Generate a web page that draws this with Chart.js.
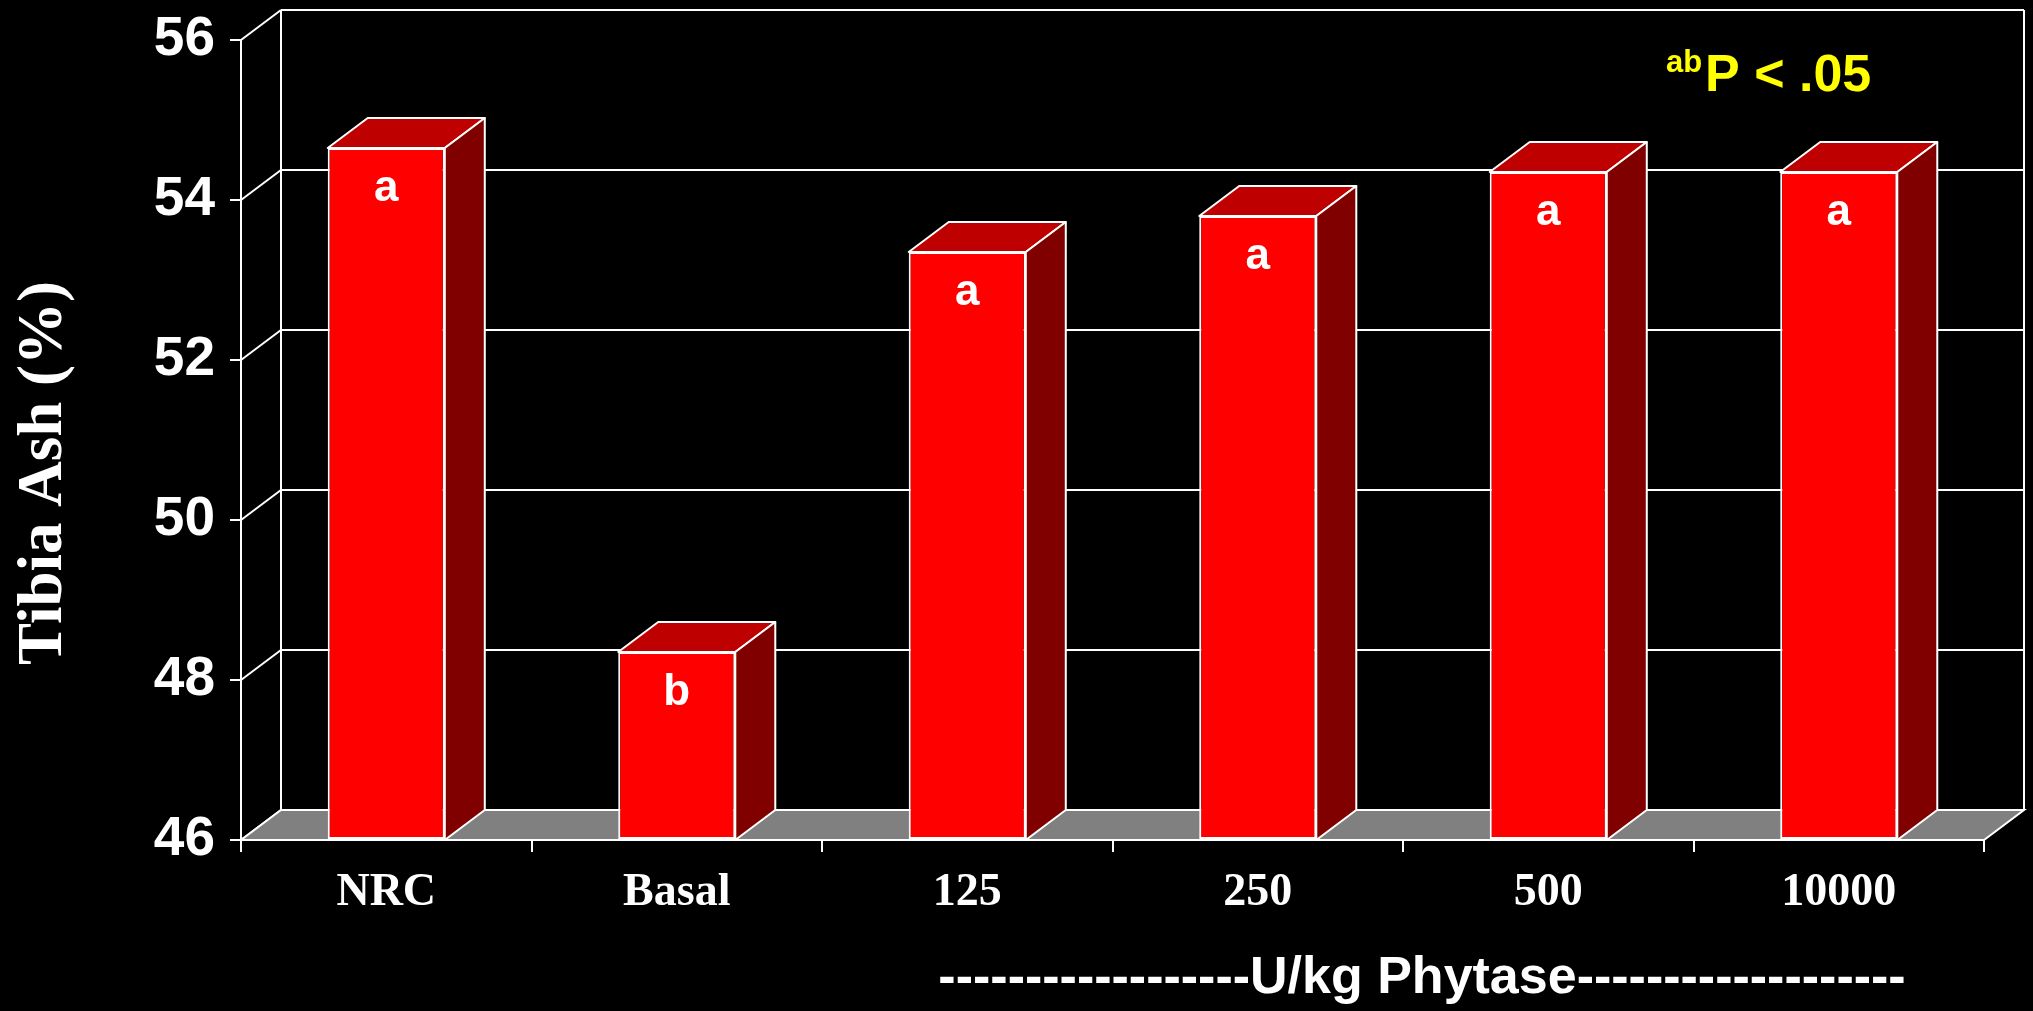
<!DOCTYPE html>
<html>
<head>
<meta charset="utf-8">
<title>Tibia Ash</title>
<script src="https://cdn.jsdelivr.net/npm/chart.js@4.4.1/dist/chart.umd.min.js"></script>
<style>
  html, body { margin: 0; padding: 0; background: #000; }
  canvas { display: block; }
</style>
</head>
<body>
<canvas id="myChart" width="2033" height="1011"></canvas>
<script>
// tibia ash (%) per diet, letters are the significance groups
var categories = ['NRC', 'Basal', '125', '250', '500', '10000'];
var tibiaAsh = [54.65, 48.35, 53.35, 53.8, 54.35, 54.35];
var letters = ['a', 'b', 'a', 'a', 'a', 'a'];
var yTicks = [46, 48, 50, 52, 54, 56];

var DX = 40, DY = 30; // depth of the fake 3d box

function line(ctx, x1, y1, x2, y2) {
    ctx.beginPath();
    ctx.moveTo(x1, y1);
    ctx.lineTo(x2, y2);
    ctx.stroke();
}

function poly(ctx, pts, fill) {
    ctx.beginPath();
    ctx.moveTo(pts[0][0], pts[0][1]);
    for (var i = 1; i < pts.length; i++) ctx.lineTo(pts[i][0], pts[i][1]);
    ctx.closePath();
    ctx.fillStyle = fill;
    ctx.fill();
    ctx.stroke();
}

var box3d = {
    id: 'box3d',
    beforeDatasetsDraw: function (chart) {
        var ctx = chart.ctx, a = chart.chartArea, y = chart.scales.y;
        var top = y.getPixelForValue(yTicks[yTicks.length - 1]);
        var bot = y.getPixelForValue(yTicks[0]);
        ctx.save();
        ctx.strokeStyle = '#fff';
        ctx.lineWidth = 2;
        // back wall grid + side wall diagonals
        yTicks.forEach(function (v) {
            var py = y.getPixelForValue(v);
            line(ctx, a.left, py, a.left + DX, py - DY);
            line(ctx, a.left + DX, py - DY, a.right + DX, py - DY);
        });
        line(ctx, a.left + DX, top - DY, a.left + DX, bot - DY);
        line(ctx, a.right + DX, top - DY, a.right + DX, bot - DY);
        // grey floor
        poly(ctx, [[a.left, bot], [a.right, bot], [a.right + DX, bot - DY], [a.left + DX, bot - DY]], '#808080');
        ctx.restore();
    },
    afterDatasetsDraw: function (chart) {
        var ctx = chart.ctx;
        var meta = chart.getDatasetMeta(0);
        var bot = chart.scales.y.getPixelForValue(yTicks[0]);
        ctx.save();
        ctx.strokeStyle = '#fff';
        ctx.lineWidth = 2;
        ctx.lineJoin = 'round';
        meta.data.forEach(function (bar, i) {
            var p = bar.getProps(['x', 'y', 'width'], true);
            var x0 = p.x - p.width / 2, x1 = p.x + p.width / 2;
            // top face
            poly(ctx, [[x0, p.y], [x1, p.y], [x1 + DX, p.y - DY], [x0 + DX, p.y - DY]], '#bf0000');
            // side face
            poly(ctx, [[x1, p.y], [x1 + DX, p.y - DY], [x1 + DX, bot - DY], [x1, bot]], '#800000');
            // letter
            ctx.fillStyle = '#fff';
            ctx.font = 'bold 44px "Liberation Sans", Arial, sans-serif';
            ctx.textAlign = 'center';
            ctx.textBaseline = 'alphabetic';
            ctx.fillText(letters[i], p.x, p.y + 53);
        });
        ctx.restore();
    },
    afterDraw: function (chart) {
        var ctx = chart.ctx;
        ctx.save();
        // y title
        ctx.fillStyle = '#fff';
        ctx.font = 'bold 63px "Liberation Serif", "Times New Roman", serif';
        ctx.textAlign = 'center';
        ctx.textBaseline = 'alphabetic';
        ctx.translate(61, 473);
        ctx.rotate(-Math.PI / 2);
        ctx.fillText('Tibia Ash (%)', 0, 0);
        ctx.restore();

        ctx.save();
        ctx.fillStyle = '#fff';
        ctx.font = 'bold 52px "Liberation Sans", Arial, sans-serif';
        ctx.textAlign = 'center';
        ctx.textBaseline = 'alphabetic';
        ctx.fillText('------------------U/kg Phytase-------------------', 1422, 993);

        // significance note
        ctx.fillStyle = '#ffff00';
        ctx.textAlign = 'left';
        ctx.font = 'bold 31px "Liberation Sans", Arial, sans-serif';
        ctx.fillText('ab', 1666, 72);
        ctx.font = 'bold 52px "Liberation Sans", Arial, sans-serif';
        ctx.fillText('P < .05', 1705, 91);
        ctx.restore();
    }
};

var ctx = document.getElementById('myChart').getContext('2d');

var mychart = new Chart(ctx, {
    type: 'bar',
    data: {
        labels: categories,
        datasets: [{
            label: 'Tibia Ash',
            data: tibiaAsh,
            base: yTicks[0],
            backgroundColor: '#ff0000',
            borderColor: '#ffffff',
            borderWidth: 2,
            borderSkipped: false,
            barPercentage: 0.403,
            categoryPercentage: 1
        }]
    },
    options: {
        responsive: false,
        animation: false,
        devicePixelRatio: 1,
        layout: { padding: { left: 0, right: 49, top: 40, bottom: 0 } },
        plugins: {
            legend: { display: false },
            tooltip: { enabled: false }
        },
        scales: {
            x: {
                grid: { drawOnChartArea: false, color: '#fff', lineWidth: 2, tickLength: 12, offset: true },
                border: { display: true, color: '#fff', width: 2 },
                ticks: {
                    color: '#fff',
                    padding: 14,
                    font: { family: '"Liberation Serif", "Times New Roman", serif', weight: 'bold', size: 46 }
                },
                afterFit: function (s) { s.height = 171; s.paddingLeft = 0; s.paddingRight = 0; }
            },
            y: {
                min: 46,
                max: 56,
                afterBuildTicks: function (s) {
                    s.ticks = yTicks.map(function (v) { return { value: v }; });
                },
                grid: { drawOnChartArea: false, color: '#fff', lineWidth: 2, tickLength: 11 },
                border: { display: true, color: '#fff', width: 2 },
                ticks: {
                    color: '#fff',
                    padding: 15,
                    font: { family: '"Liberation Sans", Arial, sans-serif', weight: 'bold', size: 55 }
                },
                afterFit: function (s) { s.width = 241; s.paddingTop = 0; s.paddingBottom = 0; }
            }
        }
    },
    plugins: [box3d]
});
</script>
</body>
</html>
